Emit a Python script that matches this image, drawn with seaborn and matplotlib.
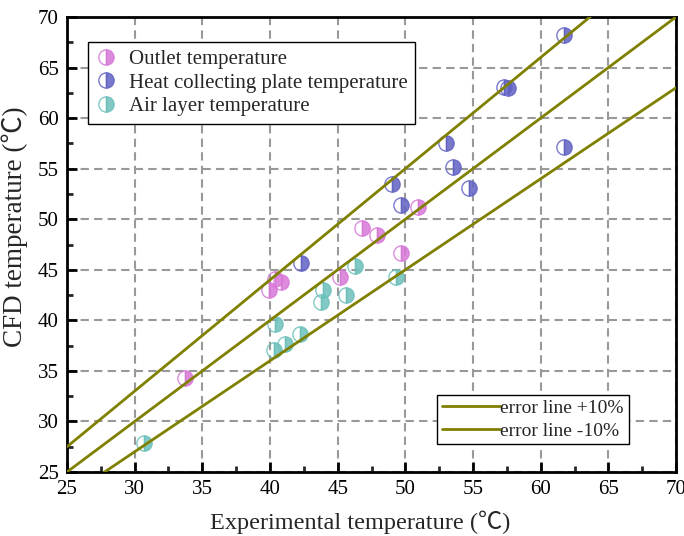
import matplotlib
matplotlib.use("Agg")
import matplotlib.pyplot as plt
import seaborn as sns
import pandas as pd
import numpy as np
from matplotlib.lines import Line2D
from matplotlib.ticker import MultipleLocator

sns.set_theme(style="white")
plt.rcParams['font.family'] = ['Liberation Serif', 'DejaVu Serif', 'DejaVu Sans']

# Data
outlet_x = [33.7, 39.9, 40.4, 40.8, 45.2, 46.8, 47.9, 49.7, 50.9]
outlet_y = [34.3, 43.0, 44.1, 43.8, 44.3, 49.1, 48.4, 46.7, 51.2]
plate_x = [42.3, 49.0, 49.7, 53.0, 53.5, 54.7, 57.3, 57.6, 61.7, 61.7]
plate_y = [45.7, 53.5, 51.4, 57.5, 55.2, 53.1, 63.1, 63.0, 68.2, 57.1]
air_x = [30.7, 40.4, 40.3, 41.1, 42.2, 43.8, 43.9, 45.6, 46.3, 49.3]
air_y = [27.9, 39.6, 37.1, 37.7, 38.6, 41.8, 43.0, 42.5, 45.4, 44.3]
line_x = [25, 70]
ratio_labels = ["error line +10%", "error line -10%"]
series_names = ["Outlet temperature", "Heat collecting plate temperature", "Air layer temperature"]
colors = ["#d878d8", "#6262c4", "#6cc0bb"]
olive = "#808000"

fig = plt.figure(figsize=(6.84, 5.36), dpi=100)
ax = fig.add_axes([67/684, 1-472/536, (676-67)/684, (472-17)/536])

ax.grid(True, which='major', linestyle=(0, (4, 2.5)), color='#999999', linewidth=1.5, zorder=0)
ax.set_axisbelow(True)

handles = []
for name, xs, ys, c in zip(series_names, [outlet_x, plate_x, air_x], [outlet_y, plate_y, air_y], colors):
    df = pd.DataFrame({"x": xs, "y": ys})
    sns.lineplot(data=df, x="x", y="y", estimator=None, sort=False, ax=ax,
                 linestyle='none', marker='o', markersize=11, fillstyle='right',
                 markerfacecolor=c, markeredgecolor=c, markeredgewidth=1.0,
                 markerfacecoloralt='none', alpha=0.85, zorder=3)
    handles.append(Line2D([], [], linestyle='none', marker='o', markersize=11, fillstyle='right',
                          markerfacecolor=c, markeredgecolor=c, markeredgewidth=1.0,
                          markerfacecoloralt='none', alpha=0.85, label=name))

line_df = pd.DataFrame({"x": line_x * 3,
                        "y": [v * 1.1 for v in line_x] + [v * 1.0 for v in line_x] + [v * 0.9 for v in line_x],
                        "g": ["p"] * 2 + ["c"] * 2 + ["m"] * 2})
for g in ["p", "c", "m"]:
    sub = line_df[line_df.g == g]
    sns.lineplot(data=sub, x="x", y="y", estimator=None, sort=False, ax=ax,
                 color=olive, linewidth=2.0, zorder=4)

ax.set_xlim(25, 70)
ax.set_ylim(25, 70)
ax.xaxis.set_major_locator(MultipleLocator(5))
ax.xaxis.set_minor_locator(MultipleLocator(2.5))
ax.yaxis.set_major_locator(MultipleLocator(5))
ax.yaxis.set_minor_locator(MultipleLocator(2.5))
ax.tick_params(which='major', direction='in', length=7, width=2, labelsize=15, pad=6,
               bottom=True, left=True, top=False, right=False, colors='black')
ax.tick_params(which='minor', direction='in', length=4, width=2,
               bottom=True, left=True, top=False, right=False)
for s in ax.spines.values():
    s.set_linewidth(2)
    s.set_color('black')
    s.set_visible(True)

lab_fam = ['Liberation Serif', 'Noto Sans CJK SC', 'DejaVu Serif']
ax.set_xlabel("Experimental temperature (℃)", fontsize=17.5, family=lab_fam)
ax.set_ylabel("CFD temperature (℃)", fontsize=19.5, family=lab_fam)
ax.xaxis.set_label_coords(0.481, -0.085)
ax.yaxis.set_label_coords(-0.064, 0.54)

leg1 = ax.legend(handles=handles, loc='upper left', bbox_to_anchor=(0.035, 0.945),
                 fontsize=15, frameon=True, fancybox=False, edgecolor='black',
                 framealpha=1, handletextpad=0.6, borderpad=0.35, labelspacing=0.2,
                 handlelength=1.0, borderaxespad=0)
leg1.get_frame().set_linewidth(1.0)
ax.add_artist(leg1)

lh = [Line2D([], [], color=olive, linewidth=2.0, label=l) for l in ratio_labels]
leg2 = ax.legend(handles=lh, loc='upper left', bbox_to_anchor=(0.608, 0.17),
                 fontsize=14, frameon=True, fancybox=False, edgecolor='black',
                 framealpha=1, handletextpad=0.0, borderpad=0.25, labelspacing=0.25,
                 handlelength=3.0, borderaxespad=0)
leg2.get_frame().set_linewidth(1.0)

fig.savefig("out.png", dpi=100)
